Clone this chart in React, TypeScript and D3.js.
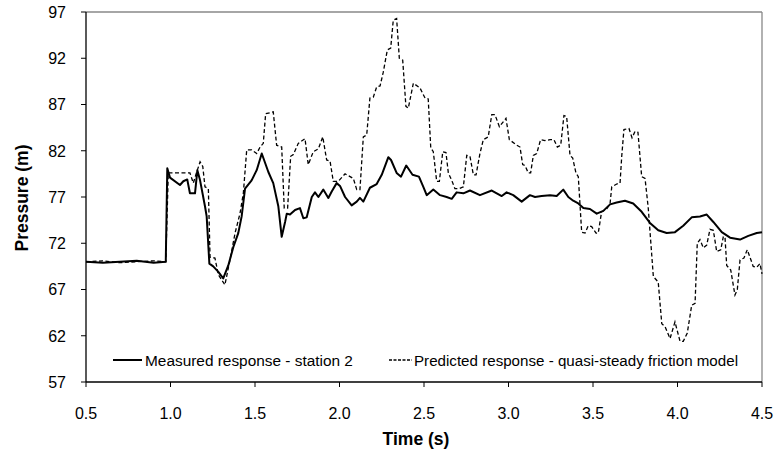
import React from "react";
import * as d3 from "d3";

const measuredT = [0.5, 0.6, 0.7, 0.8, 0.9, 0.972, 0.981, 0.997, 1.056, 1.076, 1.099, 1.115, 1.145, 1.159, 1.175, 1.204, 1.214, 1.23, 1.253, 1.283, 1.312, 1.342, 1.372, 1.401, 1.421, 1.441, 1.48, 1.51, 1.54, 1.579, 1.608, 1.638, 1.658, 1.678, 1.688, 1.707, 1.737, 1.766, 1.786, 1.806, 1.836, 1.855, 1.875, 1.904, 1.934, 1.954, 1.983, 2.003, 2.033, 2.072, 2.102, 2.121, 2.141, 2.18, 2.22, 2.25, 2.289, 2.305, 2.338, 2.364, 2.395, 2.432, 2.47, 2.496, 2.516, 2.555, 2.595, 2.634, 2.664, 2.693, 2.733, 2.772, 2.831, 2.901, 2.96, 2.989, 3.028, 3.078, 3.127, 3.157, 3.196, 3.246, 3.285, 3.324, 3.354, 3.383, 3.413, 3.443, 3.482, 3.522, 3.561, 3.601, 3.64, 3.689, 3.738, 3.788, 3.837, 3.886, 3.936, 3.985, 4.034, 4.084, 4.133, 4.173, 4.212, 4.262, 4.311, 4.37, 4.419, 4.469, 4.5];
const measuredP = [70.0, 69.9, 70.0, 70.1, 69.9, 70.0, 80.1, 79.1, 78.3, 78.7, 78.9, 77.4, 77.4, 79.9, 78.8, 76.0, 74.9, 69.8, 69.5, 68.9, 68.2, 69.6, 71.6, 73.1, 74.9, 77.9, 78.8, 79.9, 81.7, 79.7, 78.5, 76.0, 72.7, 74.3, 75.2, 75.1, 75.6, 75.8, 74.7, 74.8, 77.0, 77.5, 77.0, 77.8, 76.9, 77.6, 78.5, 78.2, 77.0, 76.1, 76.5, 76.9, 76.5, 78.0, 78.4, 79.4, 81.3, 81.0, 79.6, 79.2, 80.4, 79.4, 79.2, 78.1, 77.2, 77.8, 77.2, 77.0, 76.8, 77.5, 77.4, 77.7, 77.2, 77.7, 77.1, 77.5, 77.2, 76.5, 77.2, 77.0, 77.1, 77.2, 77.1, 77.8, 77.0, 76.6, 76.3, 75.8, 75.7, 75.2, 75.5, 76.2, 76.4, 76.6, 76.3, 75.4, 74.2, 73.4, 73.1, 73.2, 73.9, 74.8, 74.9, 75.1, 74.3, 73.2, 72.6, 72.4, 72.8, 73.1, 73.2];

const predictedT = [0.5, 0.6, 0.7, 0.8, 0.9, 0.972, 0.987, 1.115, 1.135, 1.155, 1.175, 1.191, 1.204, 1.224, 1.234, 1.263, 1.283, 1.322, 1.352, 1.382, 1.411, 1.431, 1.451, 1.48, 1.51, 1.53, 1.549, 1.563, 1.608, 1.628, 1.658, 1.673, 1.693, 1.711, 1.727, 1.756, 1.796, 1.815, 1.845, 1.875, 1.901, 1.924, 1.944, 1.963, 1.993, 2.033, 2.082, 2.102, 2.121, 2.141, 2.161, 2.18, 2.2, 2.22, 2.24, 2.259, 2.283, 2.303, 2.318, 2.338, 2.354, 2.374, 2.393, 2.407, 2.437, 2.476, 2.506, 2.525, 2.54, 2.555, 2.575, 2.591, 2.611, 2.63, 2.644, 2.664, 2.683, 2.709, 2.733, 2.753, 2.772, 2.792, 2.808, 2.831, 2.851, 2.88, 2.901, 2.92, 2.946, 2.985, 3.005, 3.049, 3.068, 3.084, 3.098, 3.117, 3.131, 3.147, 3.167, 3.19, 3.216, 3.246, 3.269, 3.289, 3.309, 3.328, 3.344, 3.364, 3.38, 3.399, 3.413, 3.433, 3.453, 3.472, 3.492, 3.518, 3.531, 3.551, 3.581, 3.601, 3.611, 3.64, 3.66, 3.67, 3.683, 3.713, 3.731, 3.749, 3.766, 3.788, 3.808, 3.827, 3.857, 3.886, 3.907, 3.926, 3.956, 3.985, 4.015, 4.034, 4.058, 4.084, 4.104, 4.117, 4.133, 4.153, 4.173, 4.192, 4.212, 4.232, 4.256, 4.271, 4.281, 4.291, 4.315, 4.34, 4.354, 4.37, 4.393, 4.413, 4.448, 4.469, 4.488, 4.5];
const predictedP = [70.0, 70.1, 69.9, 70.0, 70.1, 70.0, 79.6, 79.6, 78.5, 79.7, 80.8, 80.3, 78.1, 77.9, 70.5, 70.4, 68.6, 67.5, 70.2, 73.1, 75.2, 77.4, 82.1, 82.1, 81.7, 82.4, 82.8, 86.0, 86.2, 82.6, 82.4, 75.8, 75.8, 81.4, 81.6, 82.8, 83.3, 80.5, 81.9, 82.2, 83.5, 81.0, 80.9, 78.7, 78.7, 79.5, 79.0, 77.8, 77.8, 83.5, 83.7, 87.7, 87.8, 88.9, 89.0, 90.5, 92.9, 93.1, 96.1, 96.3, 92.0, 91.8, 86.8, 86.6, 89.3, 88.8, 87.7, 87.6, 82.3, 81.9, 78.7, 78.7, 81.9, 81.8, 79.6, 78.8, 77.9, 77.9, 78.1, 81.5, 81.4, 79.4, 79.4, 81.7, 83.2, 83.5, 85.9, 85.9, 84.6, 85.5, 83.2, 82.6, 82.4, 80.5, 80.4, 79.6, 79.6, 81.5, 81.7, 83.2, 83.1, 83.2, 83.2, 82.4, 82.6, 85.8, 85.7, 81.5, 81.2, 79.6, 79.2, 73.2, 73.1, 73.9, 73.8, 73.1, 73.1, 75.4, 75.7, 76.3, 78.1, 78.4, 78.5, 81.4, 84.3, 84.4, 83.4, 84.1, 84.0, 79.2, 79.0, 75.8, 68.4, 67.8, 63.3, 63.0, 61.7, 63.5, 61.4, 61.4, 62.3, 65.3, 65.5, 72.0, 72.4, 71.5, 71.8, 73.5, 73.4, 71.1, 71.3, 72.7, 72.7, 69.6, 69.1, 66.4, 67.0, 70.2, 70.4, 71.3, 69.5, 69.4, 69.8, 68.7];

const xTicks = [0.5, 1.0, 1.5, 2.0, 2.5, 3.0, 3.5, 4.0, 4.5];
const yTicks = [57, 62, 67, 72, 77, 82, 87, 92, 97];
const legendLabels = ["Measured response - station 2", "Predicted response - quasi-steady friction model"];
const xTitle = "Time (s)";
const yTitle = "Pressure (m)";

const W = 777;
const H = 452;
const M = { left: 86, right: 762, top: 12, bottom: 382 };
const FONT = "'Liberation Sans', Arial, sans-serif";

export default function App() {
  const x = d3.scaleLinear().domain([0.5, 4.5]).range([M.left, M.right]);
  const y = d3.scaleLinear().domain([57, 97]).range([M.bottom, M.top]);
  const line = d3
    .line<[number, number]>()
    .x((d) => x(d[0]))
    .y((d) => y(d[1]));
  const measured = measuredT.map((t, i) => [t, measuredP[i]] as [number, number]);
  const predicted = predictedT.map((t, i) => [t, predictedP[i]] as [number, number]);

  return (
    <div style={{ position: "fixed", left: 0, top: 0 }}>
      <svg width={W} height={H} style={{ display: "block", background: "#fff" }} fontFamily={FONT}>
        <rect x={0} y={0} width={W} height={H} fill="#fff" />
        {/* frame top/right */}
        <line x1={M.left} x2={M.right} y1={M.top} y2={M.top} stroke="#888" strokeWidth={1.3} />
        <line x1={M.right} x2={M.right} y1={M.top} y2={M.bottom} stroke="#888" strokeWidth={1.3} />
        {/* data */}
        <path d={line(predicted) || ""} fill="none" stroke="#000" strokeWidth={1.3} strokeDasharray="4 2.5" />
        <path d={line(measured) || ""} fill="none" stroke="#000" strokeWidth={2} strokeLinejoin="round" />
        {/* axes */}
        <line x1={M.left} x2={M.left} y1={M.top} y2={M.bottom} stroke="#000" strokeWidth={1.3} />
        <line x1={M.left} x2={M.right} y1={M.bottom} y2={M.bottom} stroke="#000" strokeWidth={1.3} />
        {yTicks.map((v) => (
          <g key={"y" + v}>
            <line x1={M.left - 5} x2={M.left} y1={y(v)} y2={y(v)} stroke="#000" strokeWidth={1} />
            <text x={66} y={y(v)} dy="0.36em" textAnchor="end" fontSize={16} fill="#000">
              {v}
            </text>
          </g>
        ))}
        {xTicks.map((v) => (
          <g key={"x" + v}>
            <line x1={x(v)} x2={x(v)} y1={M.bottom} y2={M.bottom + 5} stroke="#000" strokeWidth={1} />
            <text x={x(v)} y={419} textAnchor="middle" fontSize={16} fill="#000">
              {v.toFixed(1)}
            </text>
          </g>
        ))}
        <text x={(M.left + M.right) / 2 - 8} y={445} textAnchor="middle" fontSize={17.5} fontWeight="bold">
          {xTitle}
        </text>
        <text
          transform={`translate(28, 198) rotate(-90)`}
          textAnchor="middle"
          fontSize={17.5}
          fontWeight="bold"
        >
          {yTitle}
        </text>
        {/* legend */}
        <line x1={113} x2={142} y1={360} y2={360} stroke="#000" strokeWidth={2} />
        <text x={145} y={366} fontSize={15.4}>
          {legendLabels[0]}
        </text>
        <line x1={389} x2={412} y1={360} y2={360} stroke="#000" strokeWidth={1.3} strokeDasharray="3 1.5" />
        <text x={414} y={366} fontSize={15.4} textLength={324} lengthAdjust="spacingAndGlyphs">
          {legendLabels[1]}
        </text>
      </svg>
    </div>
  );
}
